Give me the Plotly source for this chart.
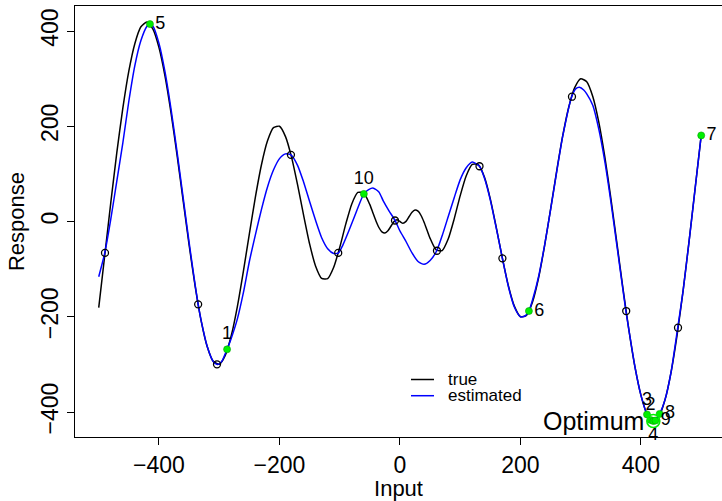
import plotly.graph_objects as go

# ---- data ----
true_x = [-500, -490, -480, -470, -460, -450, -440, -430, -420, -410, -400, -390, -380, -370,
          -360, -350, -340, -330, -320, -310, -300, -290, -280, -270, -260, -250, -240, -230,
          -220, -210, -200, -190, -180, -170, -160, -150, -140, -130, -120, -110, -100, -90,
          -80, -70, -60, -50, -45, -40, -35, -30, -25, -20, -15, -10, -5, 0,
          5, 10, 15, 20, 25, 30, 35, 40, 45, 50, 60, 70, 80, 90, 100, 110, 120, 130, 140,
          150, 160, 170, 180, 190, 200, 210, 220, 230, 240, 250, 260, 270, 280, 290, 300,
          310, 320, 330, 340, 350, 360, 370, 380, 390, 400, 410, 420, 430, 440, 450, 460,
          470, 480, 490, 500]
true_y = [-180.8, -70.8, 39.5, 144.6, 237.9, 316.1, 373.9, 408.8, 418.9, 403.9, 365.1, 305.3,
          228.1, 139.2, 44.9, -49.3, -135.6, -208.5, -262.4, -293.5, -299.7, -281.0, -239.5,
          -179.1, -105.2, -25.8, 51.3, 118.7, 168.9, 197.0, 200.0, 178.3, 135.2, 77.3, 13.3,
          -47.1, -93.8, -119.4, -119.9, -96.1, -54.4, -5.6, 36.9, 61.0, 59.6, 35.4, 18.6, 1.7,
          -12.6, -21.6, -24.0, -19.4, -10.0, -0.2, 3.9, 0.0,
          -3.9, 0.2, 10.0, 19.4, 24.0, 21.6, 12.6, -1.7, -18.6, -35.4, -59.6, -61.0, -36.9,
          5.6, 54.4, 96.1, 119.9, 119.4, 93.8, 47.1, -13.3, -77.3, -135.2, -178.3, -200.0,
          -197.0, -168.9, -118.7, -51.3, 25.8, 105.2, 179.1, 239.5, 281.0, 299.7, 293.5,
          262.4, 208.5, 135.6, 49.3, -44.9, -139.2, -228.1, -305.3, -365.1, -403.9, -418.9,
          -408.8, -373.9, -316.1, -237.9, -144.6, -39.5, 70.8, 180.8]

est_x = [-500, -490, -480, -470, -460, -450, -440, -430, -420, -416, -410, -400, -390, -380,
         -370, -360, -350, -340, -335, -330, -320, -310, -304, -300, -295, -287, -280, -270,
         -260, -250, -240, -230, -220, -210, -200, -190, -181, -170, -160, -150, -140, -130,
         -120, -110, -102, -95, -85, -75, -60, -52, -44, -35, -28, -18, -8, 0, 10, 20, 30,
         40, 50, 61, 70, 80, 90, 100, 110, 120, 132, 140, 150, 160, 170, 180, 190, 200, 207,
         214, 220, 230, 240, 250, 260, 270, 285, 292, 298, 305, 310, 320, 330, 340, 350, 360,
         375, 380, 390, 400, 410, 416, 420, 425, 431, 440, 450, 461, 470, 480, 490, 500]
est_y = [-116, -66, 5, 85, 165, 253, 328, 380, 410, 414.5, 410, 374, 314, 236, 146, 51, -44,
         -133, -174, -208, -262, -294, -300, -299, -292, -268.5, -245, -205, -150, -84, -28,
         25, 72, 108, 132, 142, 140, 118, 83, 42, 2, -34, -57, -67, -66, -50, -20, 12, 58,
         67, 70, 62, 44, 22, 2, -20, -42, -66, -84, -90, -82, -61.4, -30, 10, 50, 88, 113,
         125, 116, 92, 45, -15, -77.3, -137, -180, -200, -199, -188, -165, -116, -50, 25, 103,
         178, 262, 279, 282, 276, 268, 244, 194, 126, 42, -50, -188, -228, -305, -365, -405,
         -417, -419, -416, -404, -374, -316, -223, -145, -40, 70, 180.8]

design_x = [-489.6, -335, -303.7, -181, -102.5, -8.3, 61.4, 132, 170, 285.5, 375.5, 461.5]
design_y = [-66, -174, -300, 140, -66, 2.1, -61.4, 116, -77.3, 262, -188, -223]

seq_x = [-287, 416, 410, 420.5, -415, 214, 500, 431, 424, -60]
seq_y = [-268.5, -417, -405, -419, 414.5, -188, 180.8, -404, -418, 58]
seq_labels = ["1", "2", "3", "4", "5", "6", "7", "8", "9", "10"]
seq_pos = ["top center", "top center", "top center", "bottom center", "middle right",
           "middle right", "middle right", "middle right", "middle right", "top center"]

opt_x = [420.5]
opt_y = [-419]

x_ticks = [-400, -200, 0, 200, 400]
y_ticks = [-400, -200, 0, 200, 400]

FONT = "Liberation Sans, Arial, Helvetica, sans-serif"

fig = go.Figure()
fig.add_trace(go.Scatter(x=true_x, y=true_y, mode="lines", name="true",
                         line=dict(color="black", width=1.5, shape="spline", smoothing=0.6),
                         showlegend=False))
fig.add_trace(go.Scatter(x=est_x, y=est_y, mode="lines", name="estimated",
                         line=dict(color="#0000ff", width=1.5, shape="spline", smoothing=0.6),
                         showlegend=False))
fig.add_trace(go.Scatter(x=design_x, y=design_y, mode="markers", showlegend=False,
                         marker=dict(symbol="circle-open", size=7, color="black",
                                     line=dict(width=1.3, color="black"))))
fig.add_trace(go.Scatter(x=seq_x, y=seq_y, mode="markers+text", showlegend=False,
                         text=seq_labels, textposition=seq_pos, cliponaxis=False,
                         textfont=dict(family=FONT, size=18, color="black"),
                         marker=dict(symbol="circle", size=7, color="#00f000",
                                     line=dict(width=0.6, color="#00a000"))))
fig.add_trace(go.Scatter(x=opt_x, y=opt_y, mode="markers", showlegend=False,
                         marker=dict(symbol="circle-open", size=13, color="#00f000",
                                     line=dict(width=1.6, color="#00f000"))))

fig.add_annotation(x=opt_x[0], y=opt_y[0], text="Optimum", showarrow=False,
                   xanchor="right", yanchor="middle", xshift=-7,
                   font=dict(family=FONT, size=25, color="black"))

# legend (drawn as shapes + text)
for yy, col, lab in [(0.1334, "black", "true"), (0.0958, "#0000ff", "estimated")]:
    fig.add_shape(type="line", xref="paper", yref="paper", x0=0.5193, x1=0.5549,
                  y0=yy, y1=yy, line=dict(color=col, width=1.5))
    fig.add_annotation(xref="paper", yref="paper", x=0.5734, y=yy, text=lab,
                       showarrow=False, xanchor="left", yanchor="middle",
                       font=dict(family=FONT, size=17, color="black"))

fig.update_layout(
    width=722, height=501,
    margin=dict(l=75, r=0, t=6, b=64, autoexpand=False),
    plot_bgcolor="white", paper_bgcolor="white",
    font=dict(family=FONT, size=23, color="black"),
)
fig.update_xaxes(range=[-539.4, 534.5], tickvals=x_ticks, ticks="outside", ticklen=7,
                 tickcolor="black", showline=True, linecolor="black", linewidth=1,
                 mirror=True, showgrid=False, zeroline=False, automargin=False,
                 tickfont=dict(size=23), title=dict(text="Input", font=dict(size=22), standoff=6))
fig.update_yaxes(range=[-452.5, 452.5], tickvals=y_ticks, ticks="outside", ticklen=7,
                 tickcolor="black", showline=True, linecolor="black", linewidth=1,
                 mirror=False, showgrid=False, zeroline=False, tickangle=-90, automargin=False,
                 tickfont=dict(size=23), title=dict(text="Response", font=dict(size=22), standoff=6))

fig.write_html("out.html", config={"displayModeBar": False},
               post_script="document.body.style.margin='0px';document.body.style.padding='0px';")
